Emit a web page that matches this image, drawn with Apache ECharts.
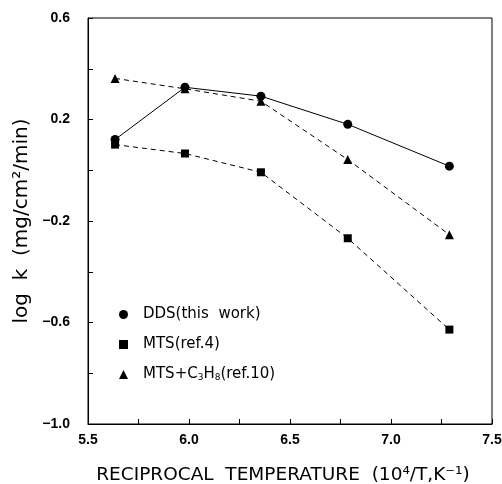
<!DOCTYPE html>
<html><head><meta charset="utf-8">
<script src="https://cdn.jsdelivr.net/npm/echarts@6/dist/echarts.min.js"></script>
<style>html,body{margin:0;padding:0;background:#fff}#c{width:502px;height:484px}</style>
</head><body><div id="c"></div>
<script>
var ddsX = [5.634, 5.98, 6.356, 6.786, 7.289];
var ddsY = [0.121, 0.327, 0.292, 0.181, 0.016];
var mtsX = [5.634, 5.98, 6.356, 6.786, 7.289];
var mtsY = [0.101, 0.066, -0.008, -0.268, -0.628];
var mtcX = [5.634, 5.98, 6.356, 6.786, 7.289];
var mtcY = [0.362, 0.321, 0.272, 0.042, -0.254];
var seriesNames = ['DDS(this work)', 'MTS(ref.4)', 'MTS+C3H8(ref.10)'];
var xTitle = 'RECIPROCAL  TEMPERATURE  (10\u2074/T,K\u207B\u00B9)';
var yTitle = 'log  k  (mg/cm\u00B2/min)';

function pairs(xs, ys){ return xs.map(function(x,i){return [x, ys[i]];}); }
var font = 'DejaVu Sans, sans-serif';
var tfont = 'Liberation Sans, Arial, sans-serif';
var chart = echarts.init(document.getElementById('c'));
chart.setOption({
  animation:false,
  backgroundColor:'#fff',
  grid:{left:88, right:10, top:18, bottom:60, show:true, borderColor:'#000', borderWidth:1,
    outerBoundsMode:'none', containLabel:false},
  xAxis:{type:'value', min:5.5, max:7.5, interval:0.25,
    axisLine:{onZero:false, lineStyle:{color:'#000', width:1}},
    axisTick:{inside:true, length:5, lineStyle:{color:'#000'}},
    splitLine:{show:false},
    axisLabel:{margin:9, color:'#000', fontFamily:tfont, fontSize:14, fontWeight:'bold',
      formatter:function(v){ var k=Math.round((v-5.5)/0.25); return k%2===0 ? v.toFixed(1) : ''; }},
    name:xTitle, nameLocation:'middle', nameGap:42,
    nameTextStyle:{color:'#000', fontFamily:font, fontSize:18.5, padding:[0,14,0,0]}
  },
  yAxis:{type:'value', min:-1.0, max:0.6, interval:0.2,
    axisLine:{onZero:false, lineStyle:{color:'#000', width:1}},
    axisTick:{inside:true, length:5, lineStyle:{color:'#000'}},
    splitLine:{show:false},
    axisLabel:{margin:18, color:'#000', fontFamily:tfont, fontSize:14, fontWeight:'bold',
      formatter:function(v){ var k=Math.round((v+1.0)/0.2); return k%2===0 ? (v<0?'\u2212':'')+Math.abs(v).toFixed(1) : ''; }},
    name:yTitle, nameLocation:'middle', nameGap:55, nameRotate:90,
    nameTextStyle:{color:'#000', fontFamily:font, fontSize:20}
  },
  legend:{orient:'vertical', left:114, top:302, itemGap:15, itemWidth:9, itemHeight:9,
    data:[{name:seriesNames[0], icon:'circle'},{name:seriesNames[1], icon:'rect'},{name:seriesNames[2], icon:'triangle'}],
    textStyle:{color:'#000', fontFamily:font, fontSize:15, padding:[0,0,0,10],
      rich:{sub:{fontSize:9, verticalAlign:'bottom', padding:[6,0,0,0], fontFamily:font, color:'#000'}}},
    formatter:function(n){ return n==='MTS+C3H8(ref.10)' ? 'MTS+C{sub|3}H{sub|8}(ref.10)' : n.replace(' ', '  '); }
  },
  series:[
    {name:seriesNames[0], type:'line', data:pairs(ddsX, ddsY), symbol:'circle', symbolSize:9,
      lineStyle:{color:'#000', width:1}, itemStyle:{color:'#000'}, z:3},
    {name:seriesNames[1], type:'line', data:pairs(mtsX, mtsY), symbol:'rect', symbolSize:8,
      lineStyle:{color:'#000', width:1, type:[5,4]}, itemStyle:{color:'#000'}},
    {name:seriesNames[2], type:'line', data:pairs(mtcX, mtcY), symbol:'triangle', symbolSize:9,
      lineStyle:{color:'#000', width:1, type:[5,4]}, itemStyle:{color:'#000'}}
  ]
});
</script></body></html>
